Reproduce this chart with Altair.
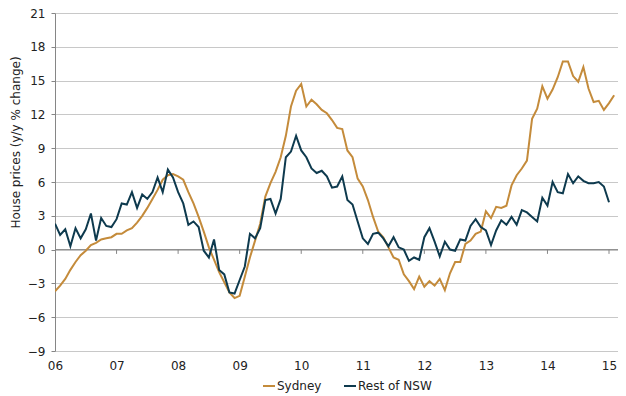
import altair as alt
import pandas as pd

start_year = 2006
series_names = ["Sydney", "Rest of NSW"]
series_colors = ["#C48B3B", "#0E3A4E"]

sydney = [
    -3.7, -3.2, -2.6, -1.8, -1.1, -0.5, -0.1, 0.4, 0.6, 0.9, 1.0, 1.1,
    1.4, 1.4, 1.7, 1.9, 2.4, 3.0, 3.7, 4.5, 5.3, 6.2, 6.6, 6.7,
    6.5, 6.2, 5.1, 4.1, 2.9, 1.6, 0.2, -0.9, -2.0, -2.9, -3.8, -4.3,
    -4.1, -2.4, -0.7, 0.8, 2.3, 4.7, 5.9, 6.9, 8.2, 10.1, 12.7, 14.1,
    14.7, 12.7, 13.3, 12.9, 12.4, 12.1, 11.5, 10.8, 10.7, 8.8, 8.2, 6.3,
    5.6, 4.4, 2.9, 1.6, 1.1, 0.2, -0.7, -0.9, -2.2, -2.8, -3.5, -2.4,
    -3.3, -2.8, -3.2, -2.6, -3.6, -2.1, -1.1, -1.1, 0.5, 0.8, 1.4, 1.6,
    3.4, 2.8, 3.8, 3.7, 3.9, 5.7, 6.6, 7.2, 7.9, 11.6, 12.5, 14.5,
    13.4, 14.2, 15.3, 16.7, 16.7, 15.4, 14.9, 16.2, 14.3, 13.1, 13.2, 12.4,
    13.0, 13.7,
]

rest_nsw = [
    2.3, 1.3, 1.8, 0.3, 1.9, 1.0, 1.8, 3.2, 0.8, 2.8, 2.1, 2.0,
    2.7, 4.1, 4.0, 5.1, 3.7, 4.9, 4.5, 5.1, 6.4, 5.1, 7.1, 6.4,
    5.1, 4.1, 2.2, 2.5, 2.0, -0.1, -0.7, 0.9, -1.8, -2.2, -3.8, -3.9,
    -2.7, -1.5, 1.4, 1.0, 1.9, 4.4, 4.5, 3.2, 4.5, 8.2, 8.7, 10.1,
    8.8, 8.2, 7.2, 6.8, 7.0, 6.5, 5.5, 5.6, 6.5, 4.4, 4.0, 2.5,
    1.0, 0.5, 1.4, 1.5, 1.0, 0.3, 1.1, 0.2, 0.0, -1.0, -0.7, -0.9,
    1.1, 1.9, 0.7, -0.6, 0.7, 0.0, -0.1, 0.9, 0.8, 2.1, 2.7, 2.0,
    1.7, 0.4, 1.7, 2.6, 2.2, 2.9, 2.2, 3.5, 3.3, 2.9, 2.5, 4.6,
    3.9, 6.0, 5.1, 5.0, 6.7, 5.9, 6.5, 6.1, 5.9, 5.9, 6.0, 5.6,
    4.2,
]

x_ticks = list(range(2006, 2016))
y_ticks = list(range(-9, 22, 3))

rows = []
for name, vals in zip(series_names, [sydney, rest_nsw]):
    for i, v in enumerate(vals):
        rows.append({"t": start_year + i / 12.0, "value": v, "series": name})
df = pd.DataFrame(rows)

FONT = "DejaVu Sans"
AXIS_GRAY = "#868686"

x_scale = alt.Scale(domain=[2006, 2015.146], nice=False, zero=False)
y_scale = alt.Scale(domain=[-9, 21], nice=False, zero=False)

x_axis = alt.Axis(
    values=x_ticks,
    tickCount=len(x_ticks),
    labelExpr="substring(toString(datum.value), 2)",
    grid=False,
    domain=False,
    ticks=False,
    tickSize=0,
    labelPadding=9,
    title=None,
    labelFontSize=12,
    labelFont=FONT,
    labelColor="#222222",
    labelFlush=False,
    labelOverlap=False,
)

y_axis = alt.Axis(
    values=y_ticks,
    tickCount=len(y_ticks),
    grid=True,
    gridColor="#c8c8c8",
    gridWidth=1,
    domain=True,
    domainColor=AXIS_GRAY,
    ticks=True,
    tickColor=AXIS_GRAY,
    tickSize=4,
    labelPadding=6,
    labelFontSize=12,
    labelFont=FONT,
    labelColor="#222222",
    labelOverlap=False,
    labelFlush=False,
    title="House prices (y/y % change)",
    titleFont=FONT,
    titleFontSize=12,
    titleFontWeight="normal",
    titleColor="#222222",
    titleAngle=-90,
    titleX=-40,
    titleY=129,
    titleAlign="center",
    titleBaseline="middle",
)

zero_line = alt.Chart(pd.DataFrame({"v": [0]})).mark_rule(
    color=AXIS_GRAY, strokeWidth=1
).encode(y=alt.Y("v:Q", scale=y_scale, axis=y_axis))

year_ticks = alt.Chart(pd.DataFrame({"t": x_ticks[1:]})).mark_rule(
    color=AXIS_GRAY, strokeWidth=1
).encode(
    x=alt.X("t:Q", scale=x_scale, axis=x_axis),
    y=alt.datum(0),
    y2=alt.datum(-0.38),
)

lines = alt.Chart(df).mark_line(strokeWidth=2, clip=True).encode(
    x=alt.X("t:Q", scale=x_scale, axis=x_axis),
    y=alt.Y("value:Q", scale=y_scale, axis=y_axis),
    color=alt.Color(
        "series:N",
        scale=alt.Scale(domain=series_names, range=series_colors),
        sort=series_names,
        legend=alt.Legend(
            orient="none",
            legendX=207,
            legendY=366,
            direction="horizontal",
            title=None,
            symbolType="stroke",
            symbolSize=144,
            symbolStrokeWidth=2,
            labelFontSize=12,
            labelFont=FONT,
            labelColor="#222222",
            columnPadding=18,
            labelOffset=1,
            padding=0,
        ),
    ),
)

chart = alt.layer(zero_line, year_ticks, lines).properties(
    width=563,
    height=338,
    autosize=alt.AutoSizeParams(type="none"),
    padding={"left": 47, "top": 5, "right": 0, "bottom": 42},
    background="white",
).configure_view(stroke=None)

chart.save("out.html", embed_options={"renderer": "svg", "actions": False})
